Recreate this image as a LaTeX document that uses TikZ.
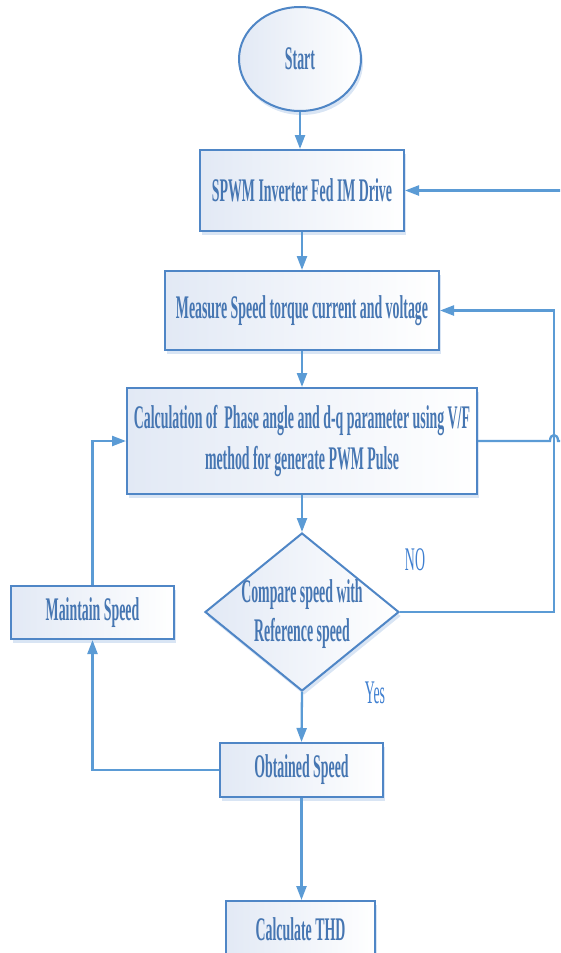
\documentclass[tikz,border=0pt]{standalone}
\usepackage{fontspec}
\usetikzlibrary{shapes.geometric,arrows.meta,shadows}
\newfontfamily\cf[FakeStretch=0.42]{Liberation Serif}
\definecolor{ln}{HTML}{5B9BD5}
\definecolor{bd}{HTML}{4F86C6}
\definecolor{tx}{HTML}{4676B2}
\definecolor{lbl}{HTML}{3F7FD0}
\definecolor{shd}{HTML}{C9DAF0}
\definecolor{fl}{HTML}{E2E9F5}
\tikzset{
  x=1pt, y=-1pt,
  box/.style={draw=bd, line width=2pt, left color=fl, right color=white,
    drop shadow={shadow xshift=2pt, shadow yshift=-4pt, fill=shd, opacity=0.7},
    inner sep=0pt, align=center, text=tx,
    font=\cf\bfseries\fontsize{33}{41}\selectfont},
  conn/.style={draw=ln, line width=2.3pt},
  arr/.style={conn, -{Triangle[length=14pt,width=10pt]}},
  lab/.style={text=lbl, font=\cf\fontsize{33}{38}\selectfont, inner sep=0pt}
}
\begin{document}
\begin{tikzpicture}
\useasboundingbox (0,0) rectangle (560,953);
\clip (0,0) rectangle (560,953);
\node[box, ellipse, minimum width=122pt, minimum height=104pt] (start) at (300,59) {Start};
\node[box, minimum width=204pt, minimum height=81pt] (spwm) at (302,190.5) {SPWM Inverter Fed IM Drive};
\node[box, minimum width=274pt, minimum height=79pt] (meas) at (302,310.5) {Measure Speed torque current and voltage};
\node[box, minimum width=350pt, minimum height=106pt] (calc) at (302,441) {Calculation of~ Phase angle and d-q parameter using V/F\\method for generate PWM Pulse};
\node[box, diamond, minimum width=194pt, minimum height=158pt] (cmp) at (302,612) {};
\node[text=tx, align=center, inner sep=0pt, font=\cf\bfseries\fontsize{33}{39}\selectfont] (cmptx) at (302,614) {Compare speed with\\Reference speed};
\node[box, minimum width=163pt, minimum height=53pt] (maint) at (92.5,612.5) {Maintain Speed};
\node[box, minimum width=163pt, minimum height=54pt] (obt) at (301.5,770) {Obtained Speed};
\node[box, minimum width=149pt, minimum height=56pt] (thd) at (300.5,929) {Calculate THD};
\node[lab] (no) at (415,560) {NO};
\node[lab] (yes) at (375,693) {Yes};
% main flow
\draw[arr] (start.south) -- (start.south |- spwm.north);
\draw[arr] (spwm.south) -- (meas.north);
\draw[arr] (meas.south) -- (calc.north);
\draw[arr] (calc.south) -- (cmp.north);
\draw[arr] (cmp.south) -- (obt.north);
\draw[arr] (obt.south) -- (obt.south |- thd.north);
% left loop
\draw[arr] (obt.west) -| (maint.south);
\draw[arr] (maint.north) |- (calc.west);
% right loop (NO)
\coordinate (rc) at (554,612);
\draw[arr] (cmp.east) -- (rc) |- (meas.east);
% calc to spwm over the edge, with hop
\coordinate (h1) at (550,441);
\coordinate (h2) at (558,441);
\coordinate (far) at (575,441);
\draw[conn] (calc.east) -- (h1) .. controls (550,433) and (558,433) .. (h2) -- (far);
\draw[arr] (far) -- (far |- spwm.east) -- (spwm.east);
\end{tikzpicture}
\end{document}
